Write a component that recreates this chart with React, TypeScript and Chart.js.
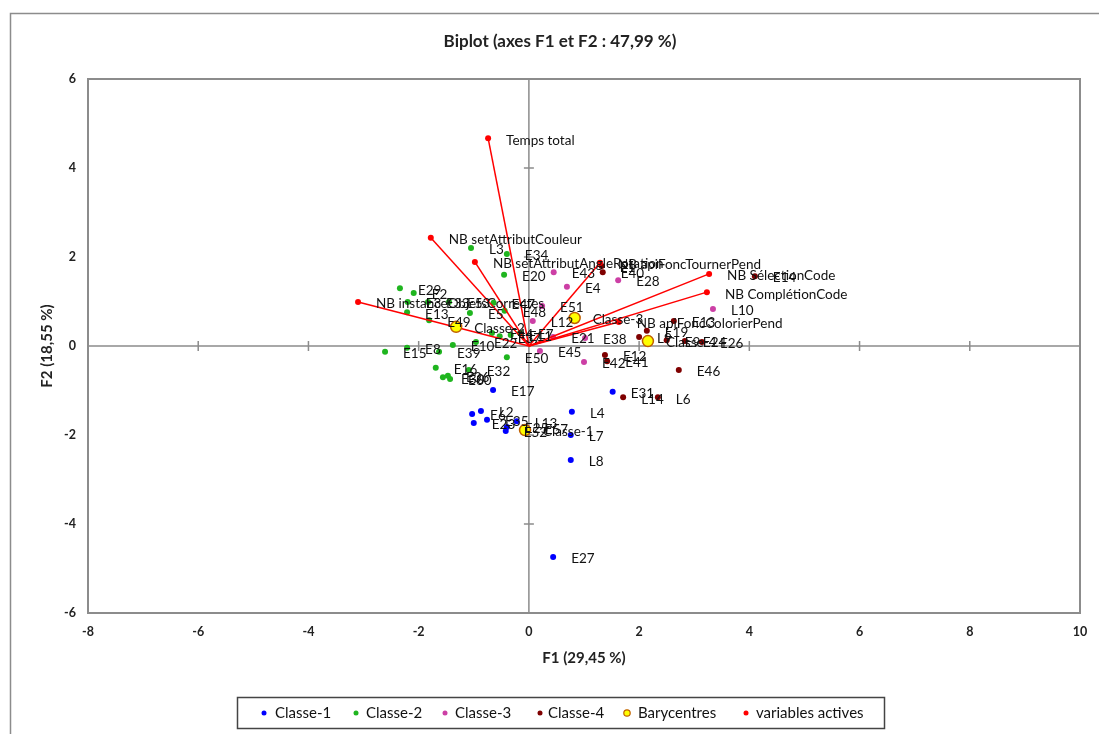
import React, { useEffect, useRef } from "react";
import { Chart, registerables } from "chart.js";
Chart.register(...registerables);

// ---------- data ----------
const xTickMin = -8, xTickMax = 10, yTickMin = -6, yTickMax = 6;

const classe1Labels = ["E27", "L8", "L7", "L4", "E31", "E17", "E6", "L2", "E23", "E35", "E25", "L13", "E52", "E57"];
const classe1X = [0.44, 0.76, 0.76, 0.78, 1.52, -0.65, -1.03, -0.87, -1.0, -0.76, -0.4, -0.22, -0.42, -0.04];
const classe1Y = [-4.74, -2.56, -2.0, -1.48, -1.03, -0.99, -1.53, -1.46, -1.73, -1.66, -1.82, -1.69, -1.91, -1.84];

const classe2Labels = ["L3", "E34", "E20", "E29", "E2", "E13", "E49", "E5", "E47", "E3", "E33", "E53", "E48", "E15", "E8", "E39", "E10", "E22", "E16", "E30", "E36", "E60", "E32", "E50", "E44", "E37", "E11", "E7"];
const classe2X = [-1.05, -0.4, -0.45, -2.34, -2.09, -2.21, -1.81, -1.07, -0.64, -2.2, -1.83, -1.45, -0.44, -2.61, -2.21, -1.63, -1.38, -0.96, -1.69, -1.56, -1.47, -1.43, -1.09, -0.4, -0.67, -0.53, -0.33, -0.16];
const classe2Y = [2.2, 2.07, 1.6, 1.3, 1.19, 0.76, 0.58, 0.74, 0.97, 0.99, 0.99, 0.99, 0.79, -0.13, -0.04, -0.13, 0.02, 0.09, -0.49, -0.7, -0.67, -0.74, -0.54, -0.25, 0.29, 0.22, 0.25, 0.29];

const classe3Labels = ["E43", "E4", "E28", "E51", "L12", "E21", "E38", "E45", "E42", "L10"];
const classe3X = [0.45, 0.69, 1.62, 0.24, 0.07, 0.44, 1.02, 0.2, 1.0, 3.34];
const classe3Y = [1.66, 1.33, 1.48, 0.9, 0.56, 0.2, 0.18, -0.11, -0.36, 0.83];

const classe4Labels = ["E1", "E40", "E14", "E13", "E19", "E12", "E41", "E46", "L14", "L6", "L9", "E9", "E24", "E26"];
const classe4X = [1.32, 1.34, 4.1, 2.63, 2.14, 1.38, 1.42, 2.72, 1.71, 2.34, 2.0, 2.5, 2.83, 3.14];
const classe4Y = [1.8, 1.66, 1.57, 0.56, 0.34, -0.2, -0.34, -0.54, -1.15, -1.15, 0.2, 0.13, 0.11, 0.09];

const baryLabels = ["Classe-1", "Classe-2", "Classe-3", "Classe-4"];
const baryX = [-0.07, -1.32, 0.83, 2.16];
const baryY = [-1.89, 0.43, 0.63, 0.11];

const varLabels = ["Temps total", "NB setAttributCouleur", "NB setAttributAngleRotation", "NB instanceObjetsCorrectes", "NB apiFoncTournerPend", "NB SélectionCode", "NB ComplétionCode", "NB apiFoncColorierPend"];
const varX = [-0.74, -1.78, -0.98, -3.1, 1.29, 3.27, 3.23, 1.63];
const varY = [4.67, 2.43, 1.89, 0.99, 1.87, 1.62, 1.21, 0.54];

const legendNames = ["Classe-1", "Classe-2", "Classe-3", "Classe-4", "Barycentres", "variables actives"];

const chartTitle = "Biplot (axes F1 et F2 : 47,99 %)";
const xAxisTitle = "F1 (29,45 %)";
const yAxisTitle = "F2 (18,55 %)";

// ---------- styles ----------
const C1 = "#0000ff", C2 = "#1fb51f", C3 = "#cc3fa5", C4 = "#7f0000", CV = "#ff0000";
const BARY_FILL = "#ffff00", BARY_BORDER = "#c06000";
const AXIS_GRAY = "#8c8c8c";
const FONT = "Lato, 'Liberation Sans', sans-serif";

const pts = (xs: number[], ys: number[]) => xs.map((x, i) => ({ x, y: ys[i] }));

const decorPlugin = {
  id: "decor",
  beforeDraw(chart: any) {
    const { ctx, chartArea: a, scales } = chart;
    const sx = scales.x, sy = scales.y;
    ctx.save();
    ctx.fillStyle = "#ffffff";
    ctx.fillRect(0, 0, chart.width, chart.height);
    // outer frame
    ctx.strokeStyle = AXIS_GRAY;
    ctx.lineWidth = 1.5;
    ctx.strokeRect(10.5, 13.5, 1120, 760);
    // zero axes
    const x0 = sx.getPixelForValue(0), y0 = sy.getPixelForValue(0);
    ctx.strokeStyle = AXIS_GRAY;
    ctx.lineWidth = 1.5;
    ctx.beginPath();
    ctx.moveTo(a.left, y0); ctx.lineTo(a.right, y0);
    ctx.moveTo(x0, a.top); ctx.lineTo(x0, a.bottom);
    sx.ticks.forEach((t: any) => {
      const px = sx.getPixelForValue(t.value);
      ctx.moveTo(px, y0 - 5); ctx.lineTo(px, y0 + 5);
    });
    sy.ticks.forEach((t: any) => {
      const py = sy.getPixelForValue(t.value);
      ctx.moveTo(x0 - 5, py); ctx.lineTo(x0 + 5, py);
    });
    ctx.stroke();
    // plot frame
    ctx.lineWidth = 2;
    ctx.strokeRect(a.left, a.top, a.right - a.left, a.bottom - a.top);
    // titles
    ctx.fillStyle = "#222";
    ctx.textAlign = "center";
    ctx.textBaseline = "middle";
    ctx.font = `bold 17px ${FONT}`;
    ctx.fillText(chartTitle, 560, 42);
    ctx.font = `bold 15px ${FONT}`;
    ctx.fillText(xAxisTitle, (a.left + a.right) / 2, 658);
    ctx.save();
    ctx.translate(47, (a.top + a.bottom) / 2);
    ctx.rotate(-Math.PI / 2);
    ctx.fillText(yAxisTitle, 0, 0);
    ctx.restore();
    ctx.restore();
  },
  afterDatasetsDraw(chart: any) {
    const { ctx } = chart;
    ctx.save();
    ctx.font = `13.5px ${FONT}`;
    ctx.fillStyle = "#111";
    ctx.textAlign = "left";
    ctx.textBaseline = "middle";
    chart.data.datasets.forEach((ds: any, i: number) => {
      if (!ds.pointLabels) return;
      const meta = chart.getDatasetMeta(i);
      meta.data.forEach((el: any, j: number) => {
        const lab = ds.pointLabels[j];
        if (lab) ctx.fillText(lab, el.x + 18, el.y + 2);
      });
    });
    ctx.restore();
  },
  afterDraw(chart: any) {
    const { ctx } = chart;
    ctx.save();
    ctx.strokeStyle = "#444";
    ctx.lineWidth = 1.5;
    ctx.strokeRect(237.5, 697.5, 647, 31);
    const markX = [264, 356, 445, 540, 627, 746];
    const textX = [275, 366, 455, 548, 638, 756];
    const cols = [C1, C2, C3, C4, BARY_FILL, CV];
    ctx.font = `15px ${FONT}`;
    ctx.textAlign = "left";
    ctx.textBaseline = "middle";
    legendNames.forEach((n, i) => {
      ctx.beginPath();
      ctx.arc(markX[i], 713, i === 4 ? 3.2 : 2.5, 0, Math.PI * 2);
      ctx.fillStyle = cols[i];
      ctx.fill();
      if (i === 4) { ctx.strokeStyle = BARY_BORDER; ctx.lineWidth = 1.2; ctx.stroke(); }
      ctx.fillStyle = "#111";
      ctx.fillText(n, textX[i], 713);
    });
    ctx.restore();
  },
};

export default function App() {
  const ref = useRef<HTMLCanvasElement | null>(null);
  useEffect(() => {
    if (!ref.current) return;
    const varLines = varX.map((x, i) => ({
      type: "line" as const,
      data: [{ x: 0, y: 0 }, { x, y: varY[i] }],
      borderColor: CV,
      borderWidth: 1.5,
      pointRadius: 0,
      fill: false,
      order: 2,
    }));
    const chart = new Chart(ref.current, {
      type: "scatter",
      data: {
        datasets: [
          { label: "Barycentres", data: pts(baryX, baryY), pointLabels: baryLabels, backgroundColor: BARY_FILL, borderColor: BARY_BORDER, borderWidth: 1.5, pointRadius: 5.5, order: 0 } as any,
          { label: "variables actives", data: pts(varX, varY), pointLabels: varLabels, backgroundColor: CV, borderColor: CV, borderWidth: 0, pointRadius: 3, order: 1 } as any,
          ...varLines,
          { label: "Classe-1", data: pts(classe1X, classe1Y), pointLabels: classe1Labels, backgroundColor: C1, borderWidth: 0, pointRadius: 3, order: 3 } as any,
          { label: "Classe-2", data: pts(classe2X, classe2Y), pointLabels: classe2Labels, backgroundColor: C2, borderWidth: 0, pointRadius: 3, order: 3 } as any,
          { label: "Classe-3", data: pts(classe3X, classe3Y), pointLabels: classe3Labels, backgroundColor: C3, borderWidth: 0, pointRadius: 3, order: 3 } as any,
          { label: "Classe-4", data: pts(classe4X, classe4Y), pointLabels: classe4Labels, backgroundColor: C4, borderWidth: 0, pointRadius: 3, order: 3 } as any,
        ],
      },
      options: {
        animation: false,
        responsive: false,
        maintainAspectRatio: false,
        layout: { padding: { left: 0, right: 19, top: 79, bottom: 0 } },
        plugins: { legend: { display: false }, title: { display: false }, tooltip: { enabled: false } },
        scales: {
          x: {
            type: "linear", min: xTickMin, max: xTickMax,
            ticks: { stepSize: 2, padding: 11, color: "#222", font: { family: FONT, size: 12.5, weight: "bold" } },
            grid: { display: false, drawTicks: false },
            border: { display: false },
            afterFit: (s: any) => { s.height = 121; },
          },
          y: {
            type: "linear", min: yTickMin, max: yTickMax,
            ticks: { stepSize: 2, padding: 12, color: "#222", font: { family: FONT, size: 12.5, weight: "bold" } },
            grid: { display: false, drawTicks: false },
            border: { display: false },
            afterFit: (s: any) => { s.width = 88; },
          },
        },
      } as any,
      plugins: [decorPlugin],
    });
    return () => chart.destroy();
  }, []);
  return (
    <div style={{ position: "fixed", left: 0, top: 0, width: 1099, height: 734, overflow: "hidden", background: "#fff" }}>
      <canvas ref={ref} width={1099} height={734} style={{ display: "block", width: 1099, height: 734 }} />
    </div>
  );
}
